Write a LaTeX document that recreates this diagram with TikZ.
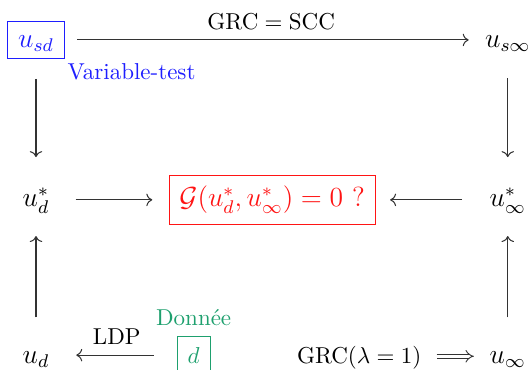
\documentclass[tikz,border=0pt]{standalone}
\usepackage{tikz}
\usetikzlibrary{positioning,arrows.meta}
\definecolor{cdbleu}{RGB}{30,30,255}
\definecolor{cdrouge}{RGB}{255,20,20}
\definecolor{cdvert}{RGB}{30,160,110}
\definecolor{cdtrait}{HTML}{333333}
\tikzset{
  cdnoeud/.style={anchor=base, inner sep=3pt, font=\large, text height=9pt, text depth=3pt},
  cdboite/.style={anchor=base, draw, inner sep=4.5pt},
  cdseta/.style={-{Computer Modern Rightarrow}, draw=cdtrait, line width=0.45pt},
  cdimpl/.style={-{Implies}, draw=cdtrait, double, double distance=1.5pt, line width=0.4pt},
  cdrotulo/.style={anchor=base, inner sep=0pt},
}
\begin{document}
\begin{tikzpicture}
    \useasboundingbox (0,0) rectangle (8.10,-5.64);
    % ligne du haut
    \node[cdboite, draw=cdbleu, text=cdbleu, font=\large, text height=6.8pt, text depth=0pt] (usd) at (0.55,-0.73) {$u_{sd}$};
    \node[cdnoeud] (usinf) at (7.76,-0.73) {$u_{s\infty}$};
    \node[cdrotulo, text=cdbleu] (vt) at (2.01,-1.21) {Variable-test};
    % ligne du milieu
    \node[cdnoeud] (uds) at (0.55,-3.16) {$u_d^*$};
    \node[cdboite, draw=cdrouge, text=cdrouge, font=\large, inner sep=4.5pt] (G) at (4.16,-3.16) {$\mathcal{G}(u_d^*,u_\infty^*)=0\ ?$};
    \node[cdnoeud] (uinfs) at (7.76,-3.16) {$u_\infty^*$};
    % ligne du bas
    \node[cdnoeud] (ud) at (0.55,-5.55) {$u_d$};
    \node[cdboite, draw=cdvert, text=cdvert] (d) at (2.96,-5.55) {$d$};
    \node[cdrotulo, text=cdvert] (donnee) at (2.96,-4.98) {Donnée};
    \node[cdnoeud, font=\normalsize] (grc) at (5.49,-5.55) {$\mathrm{GRC}(\lambda=1)$};
    \node[cdnoeud] (uinf) at (7.76,-5.55) {$u_\infty$};
    % fleches horizontales
    \draw[cdseta, shorten <=0.19cm, shorten >=0.14cm] (usd.east) -- (usinf.west |- usd.east)
        node[midway, above=1pt] (scc) {$\mathrm{GRC}=\mathrm{SCC}$};
    \draw[cdseta, shorten <=0.29cm, shorten >=0.25cm] (uds.east |- G.west) -- (G.west);
    \draw[cdseta, shorten <=0.31cm, shorten >=0.22cm] (uinfs.west |- G.east) -- (G.east);
    \draw[cdseta, shorten <=0.35cm, shorten >=0.30cm] (d.west) -- (ud.east |- d.west)
        node[midway, above=1pt] (ldp) {LDP};
    \draw[cdimpl, shorten <=0.12cm, shorten >=0.13cm] (grc.east) -- (uinf.west |- grc.east);
    % fleches verticales
    \draw[cdseta, shorten <=0.31cm, shorten >=0.33cm] (usd.south) -- (uds.north);
    \draw[cdseta, shorten <=0.25cm, shorten >=0.33cm] (usinf.south) -- (uinfs.north);
    \draw[cdseta, shorten <=0.27cm, shorten >=0.23cm] (ud.north) -- (uds.south);
    \draw[cdseta, shorten <=0.27cm, shorten >=0.23cm] (uinf.north) -- (uinfs.south);
\end{tikzpicture}
\end{document}
